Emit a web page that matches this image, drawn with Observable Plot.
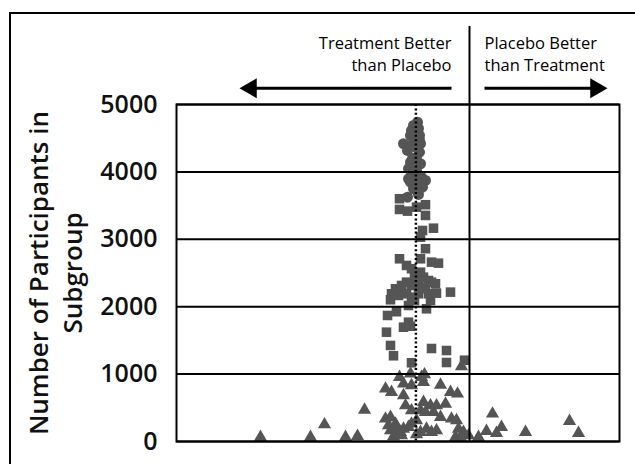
<!DOCTYPE html>
<html><head><meta charset="utf-8">
<script src="https://cdn.jsdelivr.net/npm/d3@7"></script>
<script src="https://cdn.jsdelivr.net/npm/@observablehq/plot@0.6"></script>
<style>
html,body{margin:0;padding:0;background:#fff;overflow:hidden}
body{width:635px;height:464px;position:relative}
#border{position:absolute;left:9px;top:12px;width:720px;height:600px;border:2px solid #000;pointer-events:none}
</style></head>
<body><div id="chart"></div><div id="border"></div>
<script>
// Effect estimate (arbitrary units, 0 = no difference) and subgroup size
const circleEffect = [-0.52,-0.56,-0.58,-0.51,-0.59,-0.50,-0.56,-0.66,-0.49,-0.58,-0.62,-0.50,-0.53,-0.59,-0.49,-0.61,-0.53,-0.56,-0.61,-0.48,-0.44,-0.59,-0.51,-0.56,-0.47,-0.51,-0.62,-0.55,-0.53,-0.57,-0.50];
const circleN      = [4738,4689,4615,4645,4541,4541,4497,4418,4418,4393,4318,4293,4219,4145,4121,4047,4022,3947,3898,3922,3873,3848,3824,3750,3774,3665,3625,4585,4363,4200,4467];

const squareEffect = [-0.70,-0.70,-0.62,-0.53,-0.44,-0.44,-0.36,-0.47,-0.49,-0.44,-0.70,-0.63,-0.49,-0.38,-0.31,-0.58,-0.49,-0.46,-0.63,-0.38,-0.74,-0.68,-0.58,-0.51,-0.44,-0.34,-0.78,-0.71,-0.63,-0.51,-0.41,-0.33,-0.19,-0.58,-0.79,-0.39,-0.61,-0.43,-0.73,-0.82,-0.61,-0.59,-0.66,-0.83,-0.79,-0.76,-0.38,-0.23,-0.23,-0.05,-0.58,-0.53,-0.41,-0.68,-0.46,-0.55,-0.55];
const squareN      = [3602,3443,3418,3477,3513,3354,3165,3131,3032,2860,2711,2612,2711,2661,2646,2563,2512,2438,2364,2364,2266,2266,2315,2315,2290,2340,2192,2167,2192,2192,2192,2201,2216,2141,2103,2092,2018,1969,1925,1870,1770,1710,1696,1622,1425,1272,1380,1350,1172,1206,1168,2489,2389,2315,2266,2434,2092];

const triangleEffect = [-2.09,-1.59,-1.45,-1.24,-1.12,-1.05,0.09,0.17,0.23,0.27,0.32,0.56,1.00,1.09,-0.08,-0.84,-0.78,-0.70,-0.66,-0.59,-0.58,-0.48,-0.46,-0.29,-0.19,-0.12,-0.66,-0.64,-0.58,-0.46,-0.39,-0.33,-0.24,-0.49,-0.44,-0.36,-0.29,-0.84,-0.79,-0.81,-0.74,-0.73,-0.66,-0.61,-0.58,-0.79,-0.69,-0.49,-0.38,-0.33,-0.18,-0.13,-0.11,-0.06,-0.01,-0.14,-0.09,-0.53,-0.43,-0.53,-0.76,-0.68,-0.45,-0.72];
const triangleN      = [64,64,252,64,79,470,64,153,411,123,212,138,301,123,1113,782,732,954,856,1005,831,954,880,841,732,708,683,534,460,583,534,534,559,460,435,435,361,337,361,237,263,163,188,212,263,163,138,138,138,163,337,312,188,138,89,64,64,312,188,104,74,89,994,134];

const yTicks = [0, 1000, 2000, 3000, 4000, 5000];
const overallEffect = -0.536;   // dotted line
const nullEffect = 0;           // solid line
const leftLabel = "Treatment Better\nthan Placebo";
const rightLabel = "Placebo Better\nthan Treatment";
const yLabel = "Number of Participants in\nSubgroup";
const arrowTail = [-0.18, 0.15];
const arrowTip = [-2.30, 1.38];
const arrowLevel = 5240;

const zip = (xs, ys) => xs.map((x, i) => ({effect: x, n: ys[i]}));
const circles = zip(circleEffect, circleN);
const squares = zip(squareEffect, squareN);
const triangles = zip(triangleEffect, triangleN);

const headOffset = 0.115; // centroid of arrowhead from tip (style)
const arrows = arrowTail.map((t, i) => ({
  tail: t,
  head: arrowTip[i] + (arrowTip[i] < t ? headOffset : -headOffset),
  rot: arrowTip[i] < t ? -90 : 90
}));

const grey = "#555";

const chart = Plot.plot({
  width: 635,
  height: 464,
  marginLeft: 176,
  marginRight: 16,
  marginTop: 104,
  marginBottom: 23,
  style: {fontFamily: "'Open Sans', sans-serif", background: "transparent", color: "#000"},
  x: {domain: [-2.93, 1.50], axis: null},
  y: {domain: [0, 5000], axis: null},
  marks: [
    Plot.dot(triangles, {x: "effect", y: "n", symbol: "triangle", r: 4.9, fill: grey}),
    Plot.dot(squares, {x: "effect", y: "n", symbol: "square", r: 5.4, fill: grey}),
    Plot.dot(circles, {x: "effect", y: "n", symbol: "circle", r: 5.5, fill: grey}),
    Plot.ruleY(yTicks, {stroke: "#000", strokeWidth: 2}),
    Plot.frame({stroke: "#000", strokeWidth: 2}),
    Plot.ruleX([overallEffect], {stroke: "#000", strokeWidth: 2.5, strokeDasharray: "2,2.4"}),
    Plot.ruleX([nullEffect], {stroke: "#000", strokeWidth: 2, insetTop: -78}),
    Plot.axisY(yTicks, {tickSize: 0, tickPadding: 19, fontSize: 25, fontWeight: 600, tickFormat: d3.format("d"), label: null, fill: "#111"}),
    Plot.text([yLabel], {frameAnchor: "left", dx: -122, rotate: -90, fontSize: 26, fontWeight: 600, lineHeight: 1.3, textAnchor: "middle", lineAnchor: "middle", fill: "#111"}),
    Plot.text([leftLabel], {x: () => nullEffect, frameAnchor: "top", dx: -18, dy: -34, textAnchor: "end", lineAnchor: "bottom", fontSize: 16.5, lineHeight: 1.3, fill: "#000"}),
    Plot.text([rightLabel], {x: () => nullEffect, frameAnchor: "top", dx: 15, dy: -34, textAnchor: "start", lineAnchor: "bottom", fontSize: 16.5, lineHeight: 1.3, fill: "#000"}),
    Plot.link(arrows, {x1: "tail", x2: "head", y1: () => arrowLevel, y2: () => arrowLevel, stroke: "#000", strokeWidth: 3}),
    Plot.dot(arrows, {x: "head", y: () => arrowLevel, symbol: "triangle", r: 7.4, rotate: "rot", fill: "#000"})
  ]
});
document.getElementById("chart").appendChild(chart);
</script>
</body></html>
